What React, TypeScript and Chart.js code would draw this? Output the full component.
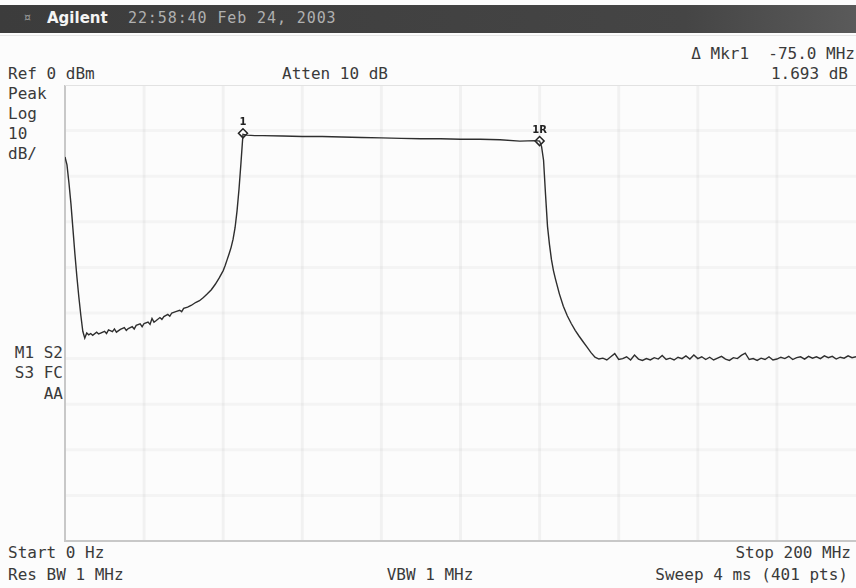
import { useEffect, useRef } from "react";
import { Chart, registerables } from "chart.js";

Chart.register(...registerables);

// Trace (frequency in MHz, level in dBm)
const traceFreqMHz = [
  0, 0.5, 1, 1.5, 2, 2.5, 3, 3.5, 4, 4.5, 5,
  5.5, 6, 6.5, 7, 8, 8.5, 9, 10, 10.5, 11, 12, 12.5, 13, 14, 15, 15.5, 16, 17, 17.5, 18, 19, 19.5, 20,
  21, 21.5, 22, 22.5, 23, 24, 24.5, 25, 26, 26.5, 27, 28, 29, 29.5, 30,
  31, 32, 33, 34, 35, 36, 37, 38, 39, 40, 40.5, 41, 41.5, 42, 42.5, 43, 43.5, 44, 44.5, 45,
  46, 48, 50, 55, 60, 65, 70, 75, 80, 85, 90, 95, 100, 105, 110, 115, 119, 120,
  120.5, 121, 121.5, 122, 122.5, 123, 123.5, 124, 125, 126, 127, 128, 129, 130, 131, 132, 133, 134, 135,
  136, 137,
  138, 139, 140, 141, 142, 143, 144, 145, 146, 147, 148, 149, 150, 151, 152, 153, 154, 155, 156, 157,
  158, 159, 160, 161, 162, 163, 164, 165, 166, 167, 168, 169, 170, 171, 172, 173, 174, 175, 176, 177,
  178, 179, 180, 181, 182, 183, 184, 185, 186, 187, 188, 189, 190, 191, 192, 193, 194, 195, 196, 197,
  198, 199, 200,
];
const traceLevelDbm = [
  -15.8, -17.5, -21.5, -26.0, -31.5, -37.0, -42.0, -46.5, -50.5, -54.0, -55.5,
  -54.4, -54.8, -54.5, -54.9, -54.2, -54.6, -54.4, -54.0, -54.5, -53.7, -54.1, -53.5, -54.2, -53.6, -53.2, -53.8, -53.4, -53.0, -53.5, -52.7, -52.4, -53.0, -52.3,
  -52.0, -52.5, -51.2, -52.0, -51.7, -51.0, -51.4, -50.8, -50.3, -50.7, -50.0, -49.7, -49.4, -49.7, -49.0,
  -48.7, -48.3, -47.7, -47.3, -46.6, -45.8, -44.9, -43.7, -42.3, -40.7, -39.6, -38.3, -37.0, -35.6, -33.8, -31.3, -27.6, -22.8, -17.0, -10.8,
  -11.0, -11.1, -11.1, -11.2, -11.3, -11.3, -11.4, -11.5, -11.6, -11.7, -11.8, -11.8, -11.9, -11.9, -12.0, -12.3, -12.2, -12.3,
  -13.5, -16.5, -24.0, -31.0, -35.0, -38.3, -40.7, -42.5, -45.8, -48.5, -50.6, -52.3, -53.8, -55.1, -56.3, -57.5, -58.7, -59.7, -60.1,
  -59.9, -60.3,
  -59.6, -58.9, -60.2, -60.0, -59.6, -60.3, -59.2, -60.1, -60.4, -60.0, -60.3, -59.8, -60.1, -59.3, -60.2, -59.9, -60.3, -59.7, -60.0, -59.4,
  -60.1, -59.2, -60.0, -59.6, -60.2, -59.7, -60.3, -59.9, -59.5, -60.1, -60.4, -59.8, -60.0, -59.3, -58.8, -60.2, -60.0, -60.4, -59.9, -60.2,
  -59.6, -60.3, -60.1, -59.7, -60.0, -59.5, -60.2, -59.8, -59.6, -60.1, -59.5, -59.9, -59.6, -60.0, -59.4, -59.8, -59.5, -60.1, -59.7, -59.9,
  -59.4, -59.8, -59.6,
];

// Markers
const markerFreqMHz = [45, 120];
const markerLevelDbm = [-10.6, -12.3];
const markerLabels = ["1", "1R"];

// Axis range (grid: 10 divisions each)
const freqStartMHz = 0;
const freqStopMHz = 200;
const freqDivMHz = 20;
const refLevelDbm = 0;
const dbPerDiv = 10;
const divisions = 10;

const MONO = "'DejaVu Sans Mono', 'Liberation Mono', monospace";

const gridPlugin = {
  id: "analyzerGrid",
  beforeDatasetsDraw(chart: any) {
    const { ctx, chartArea, scales } = chart;
    const xs = scales.x;
    const ys = scales.y;
    ctx.save();
    ctx.lineWidth = 3;
    ctx.strokeStyle = "rgba(0,0,0,0.045)";
    for (let f = freqStartMHz + freqDivMHz; f < freqStopMHz; f += freqDivMHz) {
      const px = xs.getPixelForValue(f);
      ctx.beginPath();
      ctx.moveTo(px, chartArea.top);
      ctx.lineTo(px, chartArea.bottom);
      ctx.stroke();
    }
    ctx.strokeStyle = "rgba(0,0,0,0.03)";
    for (let d = refLevelDbm - dbPerDiv; d > refLevelDbm - dbPerDiv * divisions; d -= dbPerDiv) {
      const py = ys.getPixelForValue(d);
      ctx.beginPath();
      ctx.moveTo(chartArea.left, py);
      ctx.lineTo(chartArea.right, py);
      ctx.stroke();
    }
    // frame
    ctx.lineWidth = 2;
    ctx.strokeStyle = "#c8c8c8";
    ctx.beginPath();
    ctx.moveTo(chartArea.left, chartArea.top);
    ctx.lineTo(chartArea.left, chartArea.bottom);
    ctx.lineTo(chartArea.right, chartArea.bottom);
    ctx.stroke();
    ctx.strokeStyle = "#e2e2e2";
    ctx.beginPath();
    ctx.moveTo(chartArea.left, chartArea.top);
    ctx.lineTo(chartArea.right, chartArea.top);
    ctx.stroke();
    ctx.restore();
  },
};

const markerLabelPlugin = {
  id: "markerLabels",
  afterDatasetsDraw(chart: any) {
    const meta = chart.getDatasetMeta(1);
    const ctx = chart.ctx;
    ctx.save();
    ctx.font = "bold 10px 'DejaVu Sans', sans-serif";
    ctx.fillStyle = "#222";
    ctx.textAlign = "center";
    ctx.textBaseline = "bottom";
    meta.data.forEach((pt: any, i: number) => {
      ctx.fillText(markerLabels[i], pt.x, pt.y - 6);
    });
    ctx.restore();
  },
};

function Txt(props: { x: number; y: number; children: any; right?: boolean; center?: boolean }) {
  const style: any = {
    position: "absolute",
    top: props.y,
    fontFamily: MONO,
    fontSize: 16,
    lineHeight: "16px",
    color: "#3a3a3a",
    whiteSpace: "pre",
  };
  if (props.right) style.right = 856 - props.x;
  else if (props.center) {
    style.left = props.x;
    style.transform = "translateX(-50%)";
  } else style.left = props.x;
  return <div style={style}>{props.children}</div>;
}

export default function App() {
  const canvasRef = useRef<HTMLCanvasElement | null>(null);

  useEffect(() => {
    if (!canvasRef.current) return;
    const chart = new Chart(canvasRef.current, {
      type: "line",
      data: {
        datasets: [
          {
            data: traceFreqMHz.map((f, i) => ({ x: f, y: traceLevelDbm[i] })),
            borderColor: "#2e2e2e",
            borderWidth: 1.4,
            pointRadius: 0,
            tension: 0,
            fill: false,
          },
          {
            type: "scatter" as any,
            data: markerFreqMHz.map((f, i) => ({ x: f, y: markerLevelDbm[i] })),
            pointStyle: "rectRot",
            pointRadius: 4.5,
            borderColor: "#222",
            backgroundColor: "#fff",
            borderWidth: 1.5,
            showLine: false,
          },
        ],
      },
      options: {
        animation: false,
        responsive: true,
        maintainAspectRatio: false,
        layout: { autoPadding: false, padding: { left: 1, right: 0, top: 0, bottom: 1 } },
        plugins: { legend: { display: false }, tooltip: { enabled: false } },
        scales: {
          x: {
            type: "linear",
            display: false,
            min: freqStartMHz,
            max: freqStopMHz,
          },
          y: {
            type: "linear",
            display: false,
            min: refLevelDbm - dbPerDiv * divisions,
            max: refLevelDbm,
          },
        },
      },
      plugins: [gridPlugin, markerLabelPlugin],
    });
    return () => chart.destroy();
  }, []);

  return (
    <div
      style={{
        position: "absolute",
        left: 0,
        top: 0,
        width: 856,
        height: 588,
        background: "#fcfcfc",
        overflow: "hidden",
      }}
    >
      {/* header bar */}
      <div
        style={{
          position: "absolute",
          left: 0,
          top: 5,
          width: 856,
          height: 28,
          background: "linear-gradient(to right, #3c3c3c 0%, #454545 80%, #5a5a5a 100%)",
        }}
      />
      <div
        style={{
          position: "absolute",
          left: 24,
          top: 11,
          fontFamily: "'DejaVu Sans', sans-serif",
          fontSize: 11,
          color: "#9a9a9a",
        }}
      >
        ¤
      </div>
      <div
        style={{
          position: "absolute",
          left: 47,
          top: 9,
          fontFamily: "'DejaVu Sans', sans-serif",
          fontWeight: "bold",
          fontSize: 15,
          lineHeight: "18px",
          color: "#f4f4f4",
        }}
      >
        Agilent
      </div>
      <div
        style={{
          position: "absolute",
          left: 128,
          top: 10,
          fontFamily: MONO,
          fontSize: 15,
          lineHeight: "16px",
          letterSpacing: 0.9,
          color: "#b0b0b0",
          whiteSpace: "pre",
        }}
      >
        22:58:40 Feb 24, 2003
      </div>
      <div style={{ position: "absolute", left: 0, top: 35, width: 856, height: 1, background: "#e6e6e6" }} />

      {/* annotations */}
      <Txt x={855} y={46} right>
        {"\u0394 Mkr1  -75.0 MHz"}
      </Txt>
      <Txt x={848} y={66} right>
        1.693 dB
      </Txt>
      <Txt x={8} y={66}>Ref 0 dBm</Txt>
      <Txt x={282} y={66}>Atten 10 dB</Txt>
      <Txt x={8} y={86}>Peak</Txt>
      <Txt x={8} y={106}>Log</Txt>
      <Txt x={8} y={126}>10</Txt>
      <Txt x={8} y={146}>dB/</Txt>
      <Txt x={63} y={345} right>
        M1 S2
      </Txt>
      <Txt x={63} y={365} right>
        S3 FC
      </Txt>
      <Txt x={63} y={386} right>
        AA
      </Txt>
      <Txt x={8} y={545}>Start 0 Hz</Txt>
      <Txt x={8} y={567}>Res BW 1 MHz</Txt>
      <Txt x={430} y={567} center>
        VBW 1 MHz
      </Txt>
      <Txt x={851} y={545} right>
        Stop 200 MHz
      </Txt>
      <Txt x={848} y={567} right>
        Sweep 4 ms (401 pts)
      </Txt>

      {/* plot area */}
      <div style={{ position: "absolute", left: 64, top: 85, width: 792, height: 457 }}>
        <canvas ref={canvasRef} />
      </div>
    </div>
  );
}
